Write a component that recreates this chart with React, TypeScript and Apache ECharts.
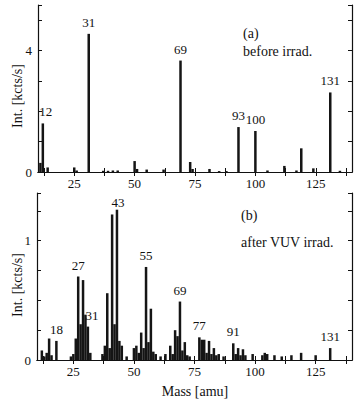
import React, { useEffect, useRef } from "react";
import * as echarts from "echarts";

// Panel (a): before irradiation
const topMass = [11, 12, 14, 25, 26, 31, 37, 39, 41, 43, 50, 51, 55, 62, 69, 73, 74, 81, 85, 88, 93, 100, 105, 112, 117, 119, 124, 131, 135];
const topInt = [0.3, 1.6, 0.15, 0.15, 0.05, 4.55, 0.04, 0.04, 0.05, 0.05, 0.36, 0.1, 0.08, 0.08, 3.67, 0.33, 0.1, 0.1, 0.03, 0.03, 1.48, 1.35, 0.05, 0.2, 0.05, 0.78, 0.12, 2.62, 0.04];
const topLabels = [12, 31, 69, 93, 100, 131];

// Panel (b): after VUV irradiation
const botMass = [12, 13, 14, 15, 16, 18, 24, 25, 26, 27, 28, 29, 30, 31, 32, 37, 38, 39, 40, 41, 42, 43, 44, 45, 47, 50, 51, 52, 53, 54, 55, 56, 57, 58, 59, 61, 63, 65, 66, 67, 68, 69, 70, 71, 72, 73, 77, 78, 79, 80, 81, 82, 83, 84, 85, 87, 91, 92, 93, 94, 95, 96, 99, 103, 104, 105, 108, 111, 115, 119, 125, 131];
const botInt = [0.08, 0.03, 0.06, 0.18, 0.04, 0.16, 0.03, 0.05, 0.18, 0.7, 0.3, 0.67, 0.38, 0.28, 0.06, 0.05, 0.12, 0.56, 0.1, 1.22, 0.3, 1.26, 0.16, 0.12, 0.03, 0.1, 0.12, 0.06, 0.23, 0.1, 0.78, 0.15, 0.43, 0.07, 0.05, 0.03, 0.05, 0.12, 0.05, 0.25, 0.2, 0.49, 0.08, 0.15, 0.04, 0.03, 0.19, 0.17, 0.17, 0.06, 0.16, 0.05, 0.1, 0.04, 0.05, 0.03, 0.14, 0.05, 0.1, 0.04, 0.09, 0.04, 0.05, 0.04, 0.06, 0.05, 0.04, 0.03, 0.04, 0.06, 0.04, 0.1];
const botLabels = [18, 27, 31, 43, 55, 69, 77, 91, 131];

const xTicks = [12.5, 25, 37.5, 50, 62.5, 75, 87.5, 100, 112.5, 125, 137.5];
const xTickLabels = [25, 50, 75, 100, 125];
const topYLabels = [0, 4];
const botYLabels = [0, 1];

const FONT = "Liberation Serif";
const INK = "#111";

function pairs(m: number[], v: number[]) {
  return m.map((x, i) => [x, v[i]]);
}
function labelPoints(labels: number[], m: number[], v: number[], offsets: Record<number, number[]>) {
  return labels.map((l) => {
    const i = m.indexOf(l);
    return { value: [l, v[i]], label: { offset: offsets[l] || [0, 0] } };
  });
}

export default function App() {
  const ref = useRef<HTMLDivElement>(null);
  useEffect(() => {
    if (!ref.current) return;
    const chart = echarts.init(ref.current, null, { renderer: "svg" });
    const axisLine = { show: true, lineStyle: { color: INK, width: 1.2 } };
    const mkX = (grid: number, pos: "bottom" | "top", labels: boolean) => ({
      type: "value",
      gridIndex: grid,
      position: pos,
      min: 10,
      max: 140,
      axisLine,
      splitLine: { show: false },
      axisTick: { show: true, inside: true, length: 4, customValues: xTicks, lineStyle: { color: INK } },
      axisLabel: labels
        ? { show: true, customValues: xTickLabels, fontFamily: FONT, fontSize: 13, color: INK, margin: 5 }
        : { show: false },
    });
    const mkY = (grid: number, pos: "left" | "right", max: number, interval: number, lab: number[] | null) => ({
      type: "value",
      gridIndex: grid,
      position: pos,
      min: 0,
      max,
      interval,
      axisLine,
      splitLine: { show: false },
      axisTick: { show: true, inside: true, length: 4, lineStyle: { color: INK } },
      axisLabel: lab
        ? { show: true, customValues: lab, fontFamily: FONT, fontSize: 13, color: INK, margin: 6 }
        : { show: false },
    });
    const barSeries = (i: number, data: number[][]) => ({
      type: "bar",
      xAxisIndex: i,
      yAxisIndex: i,
      data,
      barWidth: 2.5,
      itemStyle: { color: "#151515" },
      silent: true,
    });
    const labelSeries = (i: number, data: any[]) => ({
      type: "scatter",
      xAxisIndex: i,
      yAxisIndex: i,
      symbolSize: 0,
      data,
      silent: true,
      itemStyle: { color: INK, opacity: 1 },
      label: {
        show: true,
        position: "top",
        distance: 5,
        formatter: (p: any) => String(p.value[0]),
        fontFamily: FONT,
        fontSize: 13,
        color: INK,
      },
    });
    const txt = (x: number, y: number, text: string, extra: any = {}) => ({
      type: "text",
      x,
      y,
      style: { text, fontFamily: FONT, fontSize: 14, fill: INK, textVerticalAlign: "middle", ...extra },
    });
    chart.setOption({
      animation: false,
      grid: [
        { left: 38, top: 5, right: 8, height: 167 },
        { left: 37, top: 193, right: 8, height: 167 },
      ],
      xAxis: [mkX(0, "bottom", true), mkX(1, "bottom", true), mkX(0, "top", false), mkX(1, "top", false)],
      yAxis: [
        mkY(0, "left", 5.5, 1, topYLabels),
        mkY(1, "left", 1.4, 0.25, botYLabels),
        mkY(0, "right", 5.5, 1, null),
        mkY(1, "right", 1.4, 0.25, null),
      ],
      series: [
        barSeries(0, pairs(topMass, topInt)),
        barSeries(1, pairs(botMass, botInt)),
        labelSeries(0, labelPoints(topLabels, topMass, topInt, { 12: [3, 0] })),
        labelSeries(1, labelPoints(botLabels, botMass, botInt, { 31: [4, 0], 43: [1, 4] })),
      ],
      graphic: [
        txt(243, 33, "(a)"),
        txt(243, 51, "before irrad."),
        txt(241, 215, "(b)"),
        txt(241, 242, "after VUV irrad."),
        txt(195, 391, "Mass [amu]", { textAlign: "center" }),
        { ...txt(17, 96, "Int. [kcts/s]", { textAlign: "center" }), rotation: Math.PI / 2 },
        { ...txt(17, 285, "Int. [kcts/s]", { textAlign: "center" }), rotation: Math.PI / 2 },
      ],
    });
    return () => chart.dispose();
  }, []);
  return (
    <div
      ref={ref}
      style={{ position: "fixed", left: 0, top: 0, width: 360, height: 403, background: "#fff" }}
    />
  );
}
